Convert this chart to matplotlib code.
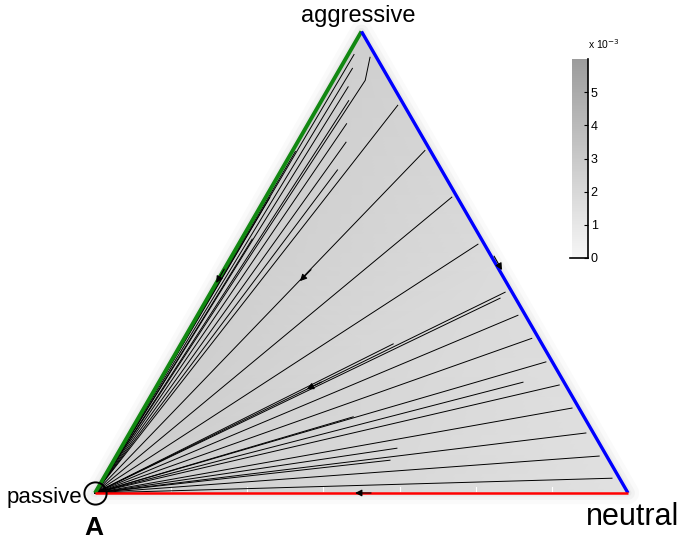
import numpy as np
import matplotlib
matplotlib.use("Agg")
import matplotlib.pyplot as plt
import matplotlib.tri as mtri
from matplotlib.colors import LinearSegmentedColormap

# shares are given as (aggressive, neutral); passive = 1 - both
VERTICES = {"passive": (0.0, 0.0), "neutral": (0.0, 1.0), "aggressive": (1.0, 0.0)}

# background field
FIELD_AGG = [0.0, 0.0, 1.0, 0.5, 0.5, 0.0, 0.333]
FIELD_NEU = [0.0, 1.0, 0.0, 0.0, 0.5, 0.5, 0.333]
FIELD_VAL = [2.8e-3, 1.4e-3, 2.6e-3, 2.6e-3, 1.8e-3, 2.0e-3, 2.1e-3]

# trajectories: waypoints (aggressive, neutral), every one ends in passive
TRAJ = [
    [(0.944, 0.044), (0.894, 0.060)],
    [(0.840, 0.148)],
    [(0.742, 0.248)],
    [(0.641, 0.349)],
    [(0.539, 0.449)],
    [(0.435, 0.552)],
    [(0.422, 0.549)],
    [(0.323, 0.398)],
    [(0.385, 0.601)],
    [(0.335, 0.652)],
    [(0.284, 0.704)],
    [(0.240, 0.683)],
    [(0.234, 0.754)],
    [(0.184, 0.803)],
    [(0.130, 0.856)],
    [(0.080, 0.906)],
    [(0.032, 0.954)],
    [(0.165, 0.402)],
    [(0.097, 0.518)],
    [(0.071, 0.518)],
    # bundle hugging the passive-aggressive edge
    [(0.950, 0.011)],
    [(0.920, 0.023)],
    [(0.880, 0.035)],
    [(0.850, 0.051)],
    [(0.800, 0.072)],
    [(0.760, 0.091)],
    [(0.700, 0.105)],
    [(0.740, 0.006)],
    [(0.640, 0.008)],
    [(0.550, 0.020)],
]

# arrow heads: position and the vertex they point at
ARROW_POS = [(0.455, 0.0), (0.459, 0.155), (0.483, 0.522), (0.225, 0.285), (0.0, 0.488)]
ARROW_TO = ["passive", "passive", "neutral", "passive", "passive"]

BOTTOM_TICKS = [1/7, 2/7, 3/7, 4/7, 5/7, 6/7]
CBAR_TICKS = [0, 1e-3, 2e-3, 3e-3, 4e-3, 5e-3]
CBAR_LABELS = ["0", "1", "2", "3", "4", "5"]


def tern(agg, neu):
    agg = np.asarray(agg, float)
    neu = np.asarray(neu, float)
    return neu + agg / 2, agg * np.sqrt(3) / 2


fig = plt.figure(figsize=(6.83, 5.41), dpi=100)
ax = fig.add_axes([0, 0, 1, 1])
ax.set_xlim(-0.1782, 1.1032)
ax.set_ylim(-0.0901, 0.925)
ax.axis("off")

corner = [VERTICES[k] for k in ("passive", "neutral", "aggressive", "passive")]
cx, cy = tern([c[0] for c in corner], [c[1] for c in corner])

# soft halo round the triangle
for lw, a in [(16, 0.04), (10, 0.06), (5, 0.08)]:
    ax.plot(cx, cy, color="0.5", lw=lw, alpha=a, solid_joinstyle="round", zorder=0)

cmap = LinearSegmentedColormap.from_list("g", ["#f6f6f6", "#9c9c9c"])
fx, fy = tern(FIELD_AGG, FIELD_NEU)
tri = mtri.Triangulation(fx, fy)
bg = ax.tripcolor(tri, FIELD_VAL, cmap=cmap, vmin=0, vmax=6e-3, shading="gouraud", zorder=1)

for k in BOTTOM_TICKS:
    ax.plot([k, k], [0.003, 0.011], color="white", lw=0.8, zorder=2)

px, py = tern(*VERTICES["passive"])
for pts in TRAJ:
    a = [p[0] for p in pts] + [0.0]
    n = [p[1] for p in pts] + [0.0]
    x, y = tern(a, n)
    ax.plot(x, y, color="black", lw=0.7, zorder=3)

# edges
ex, ey = tern([0, 1], [0, 0])
ax.plot(ex, ey, color="#118811", lw=2.8, zorder=4, solid_capstyle="butt")
ex, ey = tern([1, 0], [0, 1])
ax.plot(ex, ey, color="#0000ff", lw=2.4, zorder=4, solid_capstyle="butt")
ex, ey = tern([0, 0], [0, 1])
ax.plot(ex, ey, color="#ff0000", lw=1.8, zorder=4, solid_capstyle="butt")

for pos, tgt in zip(ARROW_POS, ARROW_TO):
    hx, hy = tern(*pos)
    tx, ty = tern(*VERTICES[tgt])
    d = np.array([tx - hx, ty - hy])
    d = d / np.hypot(*d)
    ax.annotate("", xy=(hx, hy), xytext=(hx - 0.03 * d[0], hy - 0.03 * d[1]),
                arrowprops=dict(arrowstyle="-|>", color="black", lw=0.8,
                                mutation_scale=10, shrinkA=0, shrinkB=0),
                zorder=5)

ax.plot(px, py, "o", ms=16, mfc="none", mec="black", mew=1.4, zorder=6)

ax.text(0.4934, 0.884, "aggressive", ha="center", va="baseline", fontsize=17,
        family="Liberation Sans")
ax.text(-0.0244, -0.018, "passive", ha="right", va="baseline", fontsize=16,
        family="Liberation Sans")
ax.text(0.921, -0.060, "neutral", ha="left", va="baseline", fontsize=22,
        family="Liberation Sans")
ax.text(-0.002, -0.0788, "A", ha="center", va="baseline", fontsize=19,
        family="Liberation Sans", fontweight="bold")

# colorbar
cax = fig.add_axes([572 / 683, (541 - 258) / 541, 16 / 683, 199 / 541])
cb = fig.colorbar(bg, cax=cax, ticks=CBAR_TICKS)
cb.outline.set_visible(False)
cb.ax.set_yticklabels(CBAR_LABELS)
cax.tick_params(axis="y", direction="in", length=3, width=0.8, pad=2,
                labelsize=9, right=True)
for lab in cax.get_yticklabels():
    lab.set_family("Liberation Sans")
cax.plot([1, 1], [0, 1], color="black", lw=1.2, transform=cax.transAxes, clip_on=False)
cax.plot([-0.1, 1], [0, 0], color="black", lw=1.2, transform=cax.transAxes, clip_on=False)
cax.text(1.0, 1.04, r"x 10$^{-3}$", transform=cax.transAxes, ha="left", va="bottom",
         fontsize=7.5, family="Liberation Sans")

fig.savefig("out.png", dpi=100)
